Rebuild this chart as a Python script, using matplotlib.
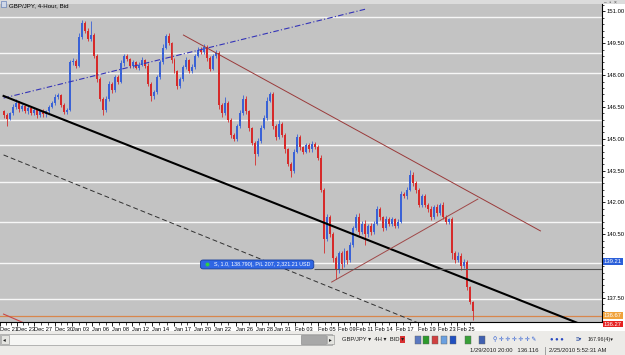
import numpy as np
import matplotlib
matplotlib.use("Agg")
import matplotlib.pyplot as plt
from matplotlib.patches import Rectangle, FancyBboxPatch
from matplotlib.ticker import FixedLocator
import matplotlib.transforms as mtransforms

plt.rcParams['font.family'] = ['Liberation Sans', 'DejaVu Sans']

# ---------------- data ----------------
closes = [
    146.10, 145.95, 146.20, 146.50, 146.70, 146.40, 146.55, 146.30, 146.45, 146.20,
    146.35, 146.10, 146.30, 146.15, 146.30, 146.50, 146.70, 146.95, 147.05, 146.60,
    146.25, 146.35, 148.60, 148.65, 148.45, 149.80, 150.45, 150.10, 149.70, 149.90,
    148.90, 147.80, 146.90, 146.35, 146.90, 147.60, 147.30, 147.90, 147.70, 148.55,
    148.90, 148.75, 148.45, 148.60, 148.35, 148.50, 148.70, 148.45, 147.60, 147.00,
    147.20, 147.90, 148.60, 149.30, 149.85, 149.50, 148.70, 148.20, 147.50, 147.80,
    148.40, 148.70, 148.20, 148.40, 148.90, 149.20, 149.10, 149.35, 148.80, 148.30,
    148.90, 149.05, 146.60, 146.20, 146.70, 145.90, 145.20, 145.00, 145.60, 146.20,
    146.90, 146.30, 145.50, 144.80, 144.30, 144.90, 145.50, 146.00, 146.80, 147.10,
    145.60, 145.10, 145.70, 145.20, 144.50, 143.80, 143.50, 144.40, 145.10, 144.60,
    144.40, 144.70, 144.50, 144.75, 144.60, 144.10, 142.60, 140.30, 141.30, 140.50,
    139.40, 138.80, 139.60, 139.10, 139.70, 139.30, 140.00, 140.80, 141.30, 140.60,
    141.00, 140.50, 140.90, 140.60, 141.00, 141.70, 141.30, 140.80, 141.20, 141.00,
    141.20, 140.90, 141.10, 142.40, 142.30, 142.60, 143.30, 142.90, 142.60, 141.90,
    142.30, 141.90, 141.70, 141.30, 141.80, 141.50, 141.90, 141.30, 141.10, 141.20,
    139.60, 139.30, 139.50, 139.00, 139.20, 138.00, 137.30, 136.90]
first_open = 146.30
# wick lengths in hundredths of a yen
wick_up = [
    8, 10, 6, 12, 20, 8, 10, 6, 12, 8,
    10, 6, 8, 12, 6, 10, 8, 14, 10, 6,
    8, 10, 12, 15, 10, 20, 17, 12, 10, 65,
    10, 8, 12, 6, 10, 14, 8, 12, 10, 15,
    12, 10, 8, 12, 6, 10, 14, 8, 10, 6,
    8, 12, 10, 15, 10, 12, 8, 10, 6, 12,
    10, 14, 8, 12, 10, 15, 12, 10, 8, 10,
    12, 15, 10, 8, 25, 10, 8, 6, 12, 14,
    16, 10, 8, 6, 10, 12, 14, 10, 18, 12,
    10, 8, 20, 10, 8, 6, 10, 12, 14, 10,
    8, 12, 10, 14, 8, 10, 12, 10, 15, 12,
    10, 8, 12, 10, 14, 8, 12, 10, 15, 20,
    15, 18, 10, 12, 15, 12, 10, 8, 15, 12,
    10, 8, 12, 15, 10, 12, 25, 12, 10, 8,
    12, 10, 8, 15, 10, 12, 8, 10, 12, 8,
    10, 12, 15, 10, 12, 10, 8, 8]
wick_dn = [
    10, 35, 8, 6, 10, 12, 8, 10, 14, 8,
    10, 12, 8, 14, 10, 8, 6, 10, 8, 12,
    10, 8, 6, 10, 12, 8, 10, 12, 8, 10,
    10, 12, 10, 25, 8, 10, 12, 8, 10, 8,
    12, 8, 10, 12, 8, 10, 8, 12, 10, 20,
    12, 8, 10, 6, 8, 10, 12, 10, 15, 10,
    8, 10, 12, 8, 10, 6, 10, 8, 12, 10,
    8, 10, 20, 15, 10, 12, 15, 10, 8, 10,
    8, 12, 15, 10, 55, 10, 8, 6, 10, 8,
    12, 15, 10, 12, 15, 10, 30, 10, 8, 12,
    10, 8, 12, 10, 8, 10, 12, 70, 10, 15,
    20, 40, 12, 25, 15, 20, 10, 8, 12, 15,
    10, 50, 12, 15, 10, 8, 12, 15, 10, 12,
    10, 12, 10, 8, 10, 12, 8, 10, 15, 10,
    12, 10, 15, 12, 10, 12, 8, 10, 12, 10,
    25, 15, 12, 20, 10, 12, 10, 45]

level_lines = [150.74, 149.04, 148.10, 145.89, 144.71, 142.97, 141.08, 139.15, 137.45]
order_price = 138.87
alert_price = 136.67
price_ticks = [151.0, 149.5, 148.0, 146.5, 145.0, 143.5, 142.0, 140.5, 137.5]
right_labels = [("139.21", 139.21, "#2b5fd9"),
                ("136.67", 136.67, "#f0a23c"),
                ("136.27", 136.27, "#e52222")]
date_labels = ['Dec 21', 'Dec 23', 'Dec 27', 'Dec 30', 'Jan 03', 'Jan 06', 'Jan 08',
               'Jan 12', 'Jan 14', 'Jan 17', 'Jan 20', 'Jan 22', 'Jan 26', 'Jan 28',
               'Jan 31', 'Feb 03', 'Feb 05', 'Feb 09', 'Feb 11', 'Feb 14', 'Feb 17',
               'Feb 19', 'Feb 23', 'Feb 25']
date_pos = [-1.5, 4.2, 9.8, 16.8, 22.8, 29.5, 36.2, 42.8, 49.5, 56.8, 63.5, 70.2,
            77.5, 84.2, 90.5, 97.5, 105.2, 111.8, 117.8, 124.2, 131.2, 138.5, 145.2, 151.8]

# trend lines: bar0, price0, bar1, price1
tl_blue = [-0.3, 146.92, 121.3, 151.12]
tl_black = [-0.3, 147.02, 194.7, 136.18]
tl_dashed = [-0.3, 144.24, 139.7, 136.27]
tl_brown_down = [60.0, 149.89, 179.7, 140.66]
tl_brown_up = [109.7, 138.25, 158.7, 142.16]
tl_red_small = [-0.3, 136.74, 9.7, 136.13]
order_text = "S, 1.0, 138.790|, P/L 207, 2,321.21 USD"
order_box = [65.7, 103.7, 138.87, 139.29]   # bar0, bar1, price_low, price_high

# ---------------- figure ----------------
W, H = 625, 355
fig = plt.figure(figsize=(W / 100, H / 100), dpi=100)
fig.patch.set_facecolor('#ecebe8')


def prect(l, t, r, b, z=1, **kw):
    fig.patches.append(Rectangle((l / W, 1 - b / H), (r - l) / W, (b - t) / H,
                                 transform=fig.transFigure, zorder=z, **kw))


def ptext(x, y, s, **kw):
    fig.text(x / W, 1 - y / H, s, **kw)


# white strips (date scale, price scale) behind the axes
prect(0, 322, 602, 331, z=-5, facecolor='white', edgecolor='none')
prect(602, 0, 625, 331, z=-5, facecolor='white', edgecolor='none')
prect(0, 0, 625, 4, z=-5, facecolor='#dcdcdc', edgecolor='none')

ax = fig.add_axes([0, 1 - 322 / H, 602 / W, (322 - 4) / H])
ax.set_zorder(2)
ax.set_facecolor('#c3c3c3')
ax.set_xlim(-1 / 3, 601 / 3)
ax.set_ylim(151 - (322 - 11.5) / 21.22, 151 + (11.5 - 4) / 21.22)

# horizontal levels
for p in level_lines:
    ax.axhline(p, color='#f7f7f7', lw=1.0, zorder=1)
ax.axhline(alert_price, color='#d8864c', lw=0.9, zorder=1)

# candles
c = np.array(closes)
o = np.array([first_open] + closes[:-1])
x = np.arange(len(c))
hi = np.maximum(o, c) + np.array(wick_up) / 100.0
lo = np.minimum(o, c) - np.array(wick_dn) / 100.0
cols = np.where(c >= o, '#3a62d6', '#d62a2a')
ax.vlines(x, lo, hi, colors=cols, lw=0.6, zorder=3)
bh = np.maximum(np.abs(c - o), 0.04)
ax.bar(x, bh, bottom=np.minimum(o, c), width=0.66, color=cols, linewidth=0, zorder=3)

# trend lines
ax.plot(tl_blue[0::2], tl_blue[1::2], color='#3434b8', lw=0.8, ls=(0, (5, 2, 1, 2)), zorder=4)
ax.plot(tl_black[0::2], tl_black[1::2], color='black', lw=1.5, zorder=4)
ax.plot(tl_dashed[0::2], tl_dashed[1::2], color='#303030', lw=0.7, ls=(0, (5, 3)), zorder=4)
ax.plot(tl_brown_down[0::2], tl_brown_down[1::2], color='#9a3a3a', lw=0.7, zorder=4)
ax.plot(tl_brown_up[0::2], tl_brown_up[1::2], color='#a04848', lw=0.7, zorder=4)
ax.plot(tl_red_small[0::2], tl_red_small[1::2], color='#c84848', lw=0.8, zorder=4)

# order line + label
ax.hlines(order_price, order_box[1], 201, color='#555555', lw=0.8, zorder=4)
box = FancyBboxPatch((order_box[0], order_box[2]), order_box[1] - order_box[0],
                     order_box[3] - order_box[2],
                     boxstyle='round,pad=0,rounding_size=0.9', mutation_aspect=0.12,
                     facecolor='#2f66e4', edgecolor='#1a3f9a', lw=0.6, zorder=6)
ax.add_patch(box)
ym = (order_box[2] + order_box[3]) / 2
ax.plot([order_box[0] + 2.2], [ym], 'o', ms=1.8, color='#30d040', zorder=7)
ax.text(order_box[0] + 4.5, ym, order_text, fontsize=3.9, color='white',
        ha='left', va='center', zorder=7)

# spines / ticks
for s in ['left', 'top']:
    ax.spines[s].set_visible(False)
for s in ['right', 'bottom']:
    ax.spines[s].set_color('black')
    ax.spines[s].set_linewidth(0.8)

ax.yaxis.tick_right()
ax.set_yticks(price_ticks)
ax.set_yticklabels([f"{p:.2f}" for p in price_ticks])
ax.yaxis.set_minor_locator(FixedLocator(np.arange(136.6, 151.35, 0.3)))
ax.tick_params(axis='y', which='major', direction='out', length=2.5, width=0.6,
               labelsize=4.2, pad=0.6, colors='black')
ax.tick_params(axis='y', which='minor', direction='out', length=1.6, width=0.5)

ax.set_xticks(date_pos)
ax.set_xticklabels(date_labels)
for lab in ax.get_xticklabels():
    lab.set_horizontalalignment('left')
mids = []
for a, b in zip(date_pos[:-1], date_pos[1:]):
    mids += [a + (b - a) / 3, a + 2 * (b - a) / 3]
ax.xaxis.set_minor_locator(FixedLocator(mids + [date_pos[-1] + 2.2, date_pos[-1] + 4.4]))
ax.tick_params(axis='x', which='major', direction='out', length=3, width=0.6,
               labelsize=4.1, pad=0.8)
ax.tick_params(axis='x', which='minor', direction='out', length=2, width=0.5)

# coloured price labels
trans = mtransforms.blended_transform_factory(ax.transAxes, ax.transData)
for txt, p, col in right_labels:
    ax.text(1.003, p, txt, transform=trans, fontsize=4.2, color='white', ha='left',
            va='center', clip_on=False, zorder=8,
            bbox=dict(boxstyle='square,pad=0.15', fc=col, ec='none'))

# title / window chrome
prect(1, 1, 6, 7, z=5, facecolor='#d0d8e8', edgecolor='#5070b0', lw=0.4)
ptext(9, 5.5, "GBP/JPY, 4-Hour, Bid", fontsize=4.4, color='black', va='center', zorder=6)
ptext(604, 2.5, "–  ▫  ×", fontsize=3.5, color='#444444', va='center', zorder=6)

# bottom scrollbar + toolbar
prect(0, 334, 332, 345, facecolor='#f6f6f4', edgecolor='#9a9a9a', lw=0.5)
prect(1, 335, 9, 344, facecolor='#e4e4e0', edgecolor='#8a8a8a', lw=0.4)
ptext(3, 339.5, "◂", fontsize=4, va='center', color='#222222')
prect(301, 335, 326, 344, facecolor='#a8a8a8', edgecolor='#808080', lw=0.4)
prect(327, 335, 334, 344, facecolor='#e4e4e0', edgecolor='#8a8a8a', lw=0.4)
ptext(328.5, 339.5, "▸", fontsize=4, va='center', color='#222222')
ptext(342, 339.5, "GBP/JPY ▾  4H ▾  BID ▾", fontsize=4.2, va='center', color='#202020')
prect(400, 336, 405, 343, facecolor='#d83030', edgecolor='none')
icon_x = [415, 423, 432, 441, 450, 465, 479]
icon_c = ['#5a78c0', '#2c9a2c', '#d04040', '#6aa0e0', '#2050c0', '#38a038', '#4060b0']
for xx, cc in zip(icon_x, icon_c):
    prect(xx, 335.5, xx + 6, 343.5, facecolor=cc, edgecolor='#606060', lw=0.3)
ptext(493, 339.5, "⚲ ✛ ✛ ✛ ✛ ✛ ✎", fontsize=4.2, va='center', color='#2a5ad0')
ptext(550, 339.5, "● ● ●", fontsize=4.2, va='center', color='#2a4ac0')
ptext(576, 339.5, "≡▾", fontsize=4.2, va='center', color='#3050a0')
ptext(588, 339.5, "167.96(4)▾", fontsize=3.9, va='center', color='#202020')

# status bar
ptext(470, 351, "1/29/2010 20:00   136.116", fontsize=4.2, va='center', color='#202020')
prect(545, 347, 546, 355, facecolor='#a0a0a0', edgecolor='none')
ptext(549, 351, "2/25/2010 5:52:31 AM", fontsize=4.2, va='center', color='#202020')

fig.savefig('out.png', dpi=100, facecolor=fig.get_facecolor())
